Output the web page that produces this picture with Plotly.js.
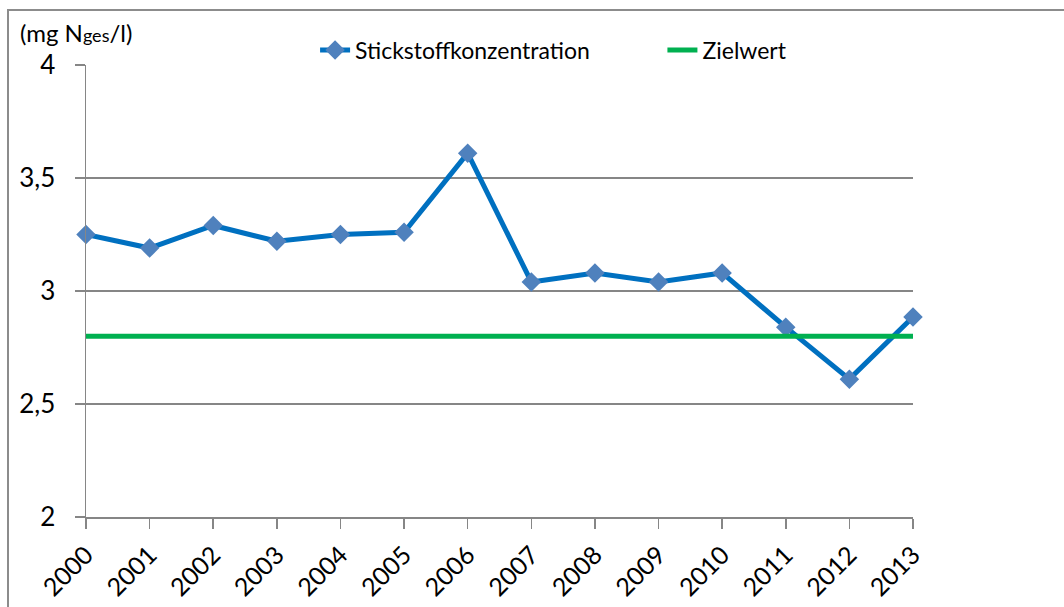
<!DOCTYPE html>
<html>
<head>
<meta charset="utf-8">
<script src="https://cdn.plot.ly/plotly-3.0.1.min.js"></script>
<style>
  html, body { margin: 0; padding: 0; background: #fff; }
  #chart { position: absolute; left: 0; top: 0; width: 1064px; height: 607px; }
  #frame {
    position: absolute; left: 7px; top: 9px; width: 1057px; height: 598px;
    border-top: 2px solid #8c8c8c; border-left: 2px solid #8c8c8c;
    pointer-events: none;
  }
</style>
</head>
<body>
<div id="chart"></div>
<div id="frame"></div>
<script>
  const years = [2000, 2001, 2002, 2003, 2004, 2005, 2006, 2007, 2008, 2009, 2010, 2011, 2012, 2013];
  const stickstoff = [3.25, 3.19, 3.29, 3.22, 3.25, 3.26, 3.61, 3.04, 3.08, 3.04, 3.08, 2.84, 2.61, 2.885];
  const zielwert = [2.8, 2.8, 2.8, 2.8, 2.8, 2.8, 2.8, 2.8, 2.8, 2.8, 2.8, 2.8, 2.8, 2.8];
  const yTicks = [2, 2.5, 3, 3.5, 4];
  const yTickText = ['2', '2,5', '3', '3,5', '4'];

  const font = 'Lato, "Open Sans", sans-serif';
  const grey = '#868686';

  const traces = [
    {
      x: years,
      y: stickstoff,
      name: 'Stickstoffkonzentration',
      type: 'scatter',
      mode: 'lines+markers',
      line: { color: '#0070C0', width: 5 },
      marker: { symbol: 'diamond', size: 15, color: '#4F81BD' },
      cliponaxis: false,
      legend: 'legend'
    },
    {
      x: years,
      y: zielwert,
      name: 'Zielwert',
      type: 'scatter',
      mode: 'lines',
      line: { color: '#00B050', width: 5 },
      cliponaxis: false,
      legend: 'legend2'
    }
  ];

  const legendBase = {
    orientation: 'h',
    yanchor: 'middle',
    y: 1.033,
    xanchor: 'left',
    font: { family: font, size: 23, color: '#000' },
    bgcolor: 'rgba(0,0,0,0)'
  };

  const layout = {
    width: 1064,
    height: 607,
    margin: { l: 86, r: 151, t: 65, b: 90 },
    paper_bgcolor: '#fff',
    plot_bgcolor: '#fff',
    font: { family: font, color: '#000' },
    showlegend: true,
    legend: Object.assign({}, legendBase, { x: 0.277 }),
    legend2: Object.assign({}, legendBase, { x: 0.697 }),
    xaxis: {
      range: [2000, 2013],
      tickvals: years,
      ticktext: years.map(String),
      tickangle: -45,
      ticks: 'outside',
      ticklen: 10,
      tickwidth: 1.5,
      tickcolor: grey,
      showline: true,
      linecolor: grey,
      linewidth: 1.5,
      showgrid: false,
      zeroline: false,
      ticklabelstandoff: 2,
      tickfont: { family: font, size: 25, color: '#000' }
    },
    yaxis: {
      range: [2, 4],
      tickvals: yTicks,
      ticktext: yTickText,
      ticks: 'outside',
      ticklen: 10,
      tickwidth: 1.5,
      tickcolor: grey,
      showline: true,
      linecolor: grey,
      linewidth: 1.5,
      showgrid: true,
      gridcolor: grey,
      gridwidth: 1.5,
      zeroline: false,
      ticklabelstandoff: 14,
      tickfont: { family: font, size: 26, color: '#000' }
    },
    annotations: [
      {
        text: '(mg N<span style="font-size:18px">ges</span>/l)',
        xref: 'paper', yref: 'paper',
        x: -0.0822, y: 1.0708,
        xanchor: 'left', yanchor: 'middle',
        showarrow: false,
        font: { family: font, size: 24, color: '#000' }
      }
    ]
  };

  Plotly.newPlot('chart', traces, layout, { displayModeBar: false, staticPlot: true });
</script>
</body>
</html>
